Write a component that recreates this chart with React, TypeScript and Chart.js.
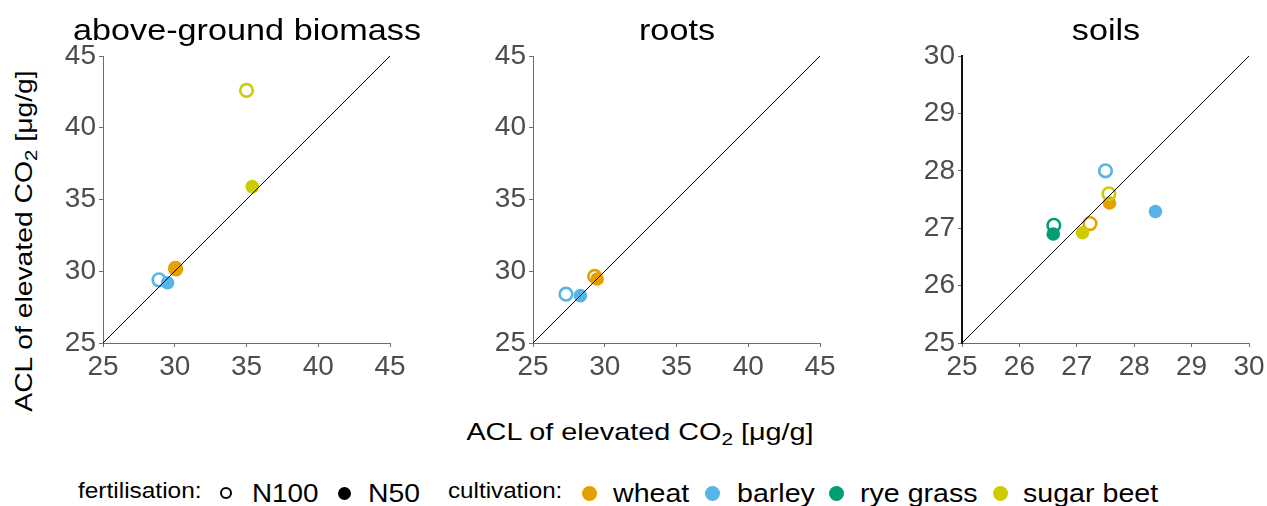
import React, { useEffect, useRef } from 'react';
import { Chart, registerables } from 'chart.js';

Chart.register(...registerables);

// ---- data -------------------------------------------------------------
const cultivations = ['wheat', 'barley', 'rye grass', 'sugar beet'];
const cultivationColors = ['#E69F00', '#56B4E9', '#009E73', '#CCCC00'];
const fertilisations = ['N100', 'N50'];

// above-ground biomass (per cultivation, null = not measured)
const biomassN100X = [30.05, 28.9, null, 35.0];
const biomassN100Y = [30.2, 29.4, null, 42.6];
const biomassN50X = [30.1, 29.5, null, 35.4];
const biomassN50Y = [30.1, 29.2, null, 35.9];

// roots
const rootsN100X = [29.3, 27.3, null, null];
const rootsN100Y = [29.64, 28.4, null, null];
const rootsN50X = [29.47, 28.3, null, null];
const rootsN50Y = [29.46, 28.3, null, null];

// soils
const soilsN100X = [27.23, 27.5, 26.6, 27.56];
const soilsN100Y = [27.08, 28.0, 27.05, 27.6];
const soilsN50X = [27.57, 28.37, 26.59, 27.1];
const soilsN50Y = [27.44, 27.29, 26.9, 26.92];

const plantTicks = [25, 30, 35, 40, 45];
const soilTicks = [25, 26, 27, 28, 29, 30];

const panelTitles = ['above-ground biomass', 'roots', 'soils'];

// ---- layout -----------------------------------------------------------
const FONT = '"Liberation Sans", Arial, Helvetica, sans-serif';
const PLOT = 287;
const Y_AXIS_W = 60;
const X_AXIS_H = 44;
const PAD_TOP = 56;
const PAD_RIGHT = 22;
const plotLefts = [103, 533, 962];

type Panel = {
  title: string;
  ticks: number[];
  n100x: (number | null)[];
  n100y: (number | null)[];
  n50x: (number | null)[];
  n50y: (number | null)[];
  left: number;
  yBorder: { color: string; width: number };
};

const panels: Panel[] = [
  { title: panelTitles[0], ticks: plantTicks, n100x: biomassN100X, n100y: biomassN100Y, n50x: biomassN50X, n50y: biomassN50Y, left: plotLefts[0], yBorder: { color: '#6e6e6e', width: 1 } },
  { title: panelTitles[1], ticks: plantTicks, n100x: rootsN100X, n100y: rootsN100Y, n50x: rootsN50X, n50y: rootsN50Y, left: plotLefts[1], yBorder: { color: '#6e6e6e', width: 1 } },
  { title: panelTitles[2], ticks: soilTicks, n100x: soilsN100X, n100y: soilsN100Y, n50x: soilsN50X, n50y: soilsN50Y, left: plotLefts[2], yBorder: { color: '#111111', width: 2 } },
];

function buildDatasets(p: Panel) {
  const lo = p.ticks[0];
  const hi = p.ticks[p.ticks.length - 1];
  const sets: any[] = [
    {
      type: 'line',
      data: [{ x: lo, y: lo }, { x: hi, y: hi }],
      borderColor: '#000000',
      borderWidth: 1,
      pointRadius: 0,
      order: 0,
    },
  ];
  let k = 0;
  cultivations.forEach((c, i) => {
    fertilisations.forEach((f) => {
      const xs = f === 'N100' ? p.n100x : p.n50x;
      const ys = f === 'N100' ? p.n100y : p.n50y;
      const x = xs[i];
      const y = ys[i];
      k += 1;
      if (x === null || y === null) return;
      const open = f === 'N100';
      sets.push({
        label: `${c} ${f}`,
        data: [{ x, y }],
        pointRadius: open ? 6.3 : 6.8,
        pointBorderWidth: open ? 2.6 : 0,
        pointBorderColor: cultivationColors[i],
        pointBackgroundColor: open ? 'rgba(0,0,0,0)' : cultivationColors[i],
        order: 100 - k,
      });
    });
  });
  return sets;
}

function axis(ticks: number[], horizontal: boolean, border: { color: string; width: number }) {
  return {
    type: 'linear',
    min: ticks[0],
    max: ticks[ticks.length - 1],
    afterBuildTicks: (s: any) => {
      s.ticks = ticks.map((v) => ({ value: v }));
    },
    afterFit: (s: any) => {
      if (horizontal) s.height = X_AXIS_H;
      else s.width = Y_AXIS_W;
      s.paddingLeft = 0;
      s.paddingRight = 0;
      s.paddingTop = 0;
      s.paddingBottom = 0;
    },
    grid: { drawOnChartArea: false, drawTicks: true, tickLength: 4, color: '#6e6e6e', lineWidth: 1 },
    border: { display: true, color: border.color, width: border.width },
    ticks: {
      font: { size: 28, family: FONT },
      color: '#4D4D4D',
      padding: horizontal ? 3 : 3,
      maxRotation: 0,
      autoSkip: false,
    },
  };
}

function PanelChart({ p }: { p: Panel }) {
  const ref = useRef<HTMLCanvasElement | null>(null);
  useEffect(() => {
    if (!ref.current) return;
    const chart = new Chart(ref.current, {
      type: 'scatter',
      data: { datasets: buildDatasets(p) },
      options: {
        animation: false,
        responsive: false,
        devicePixelRatio: 1,
        layout: { padding: { top: PAD_TOP, right: PAD_RIGHT, bottom: 0, left: 0 } },
        plugins: { legend: { display: false }, tooltip: { enabled: false }, title: { display: false } },
        scales: {
          x: axis(p.ticks, true, { color: '#6e6e6e', width: 1 }),
          y: axis(p.ticks, false, p.yBorder),
        },
      } as any,
    });
    return () => chart.destroy();
  }, [p]);
  const w = Y_AXIS_W + PLOT + PAD_RIGHT;
  const h = PAD_TOP + PLOT + X_AXIS_H;
  return (
    <canvas
      ref={ref}
      width={w}
      height={h}
      style={{ position: 'absolute', left: p.left - Y_AXIS_W, top: 0, width: w, height: h }}
    />
  );
}

// Text placed by its baseline; sx stretches it horizontally.
function Text({ children, x, base, size, sx = 1, center = false, color = '#000' }: any) {
  return (
    <div
      style={{
        position: 'absolute',
        left: x,
        top: base - 0.8465 * size,
        fontFamily: FONT,
        fontSize: size,
        lineHeight: `${size}px`,
        whiteSpace: 'nowrap',
        color,
        transformOrigin: center ? '50% 50%' : '0 50%',
        transform: center ? `translateX(-50%) scaleX(${sx})` : `scaleX(${sx})`,
      }}
    >
      {children}
    </div>
  );
}

function AxisTitle() {
  return (
    <>
      ACL of elevated CO
      <span style={{ fontSize: '0.72em', position: 'relative', top: '0.28em' }}>2</span> [μg/g]
    </>
  );
}

function Dot({ cx, cy, d, color, open = false }: any) {
  return (
    <div
      style={{
        position: 'absolute',
        left: cx - d / 2,
        top: cy - d / 2,
        width: d,
        height: d,
        boxSizing: 'border-box',
        borderRadius: '50%',
        background: open ? 'transparent' : color,
        border: open ? `2px solid ${color}` : 'none',
      }}
    />
  );
}

export default function App() {
  const legendDots = [589, 712, 836, 1000];
  const legendLabels = [613, 737, 860, 1023];
  const yTitleCx = 24;
  const yTitleCy = 241;
  const yTitleBox = 420;
  return (
    <div
      style={{
        position: 'absolute',
        left: 0,
        top: 0,
        width: 1267,
        height: 506,
        overflow: 'hidden',
        background: '#ffffff',
      }}
    >
      {panels.map((p) => (
        <PanelChart key={p.title} p={p} />
      ))}
      {panels.map((p) => (
        <Text key={`t-${p.title}`} x={p.left + PLOT / 2} base={41} size={29} sx={1.18} center>
          {p.title}
        </Text>
      ))}

      {/* shared axis titles */}
      <Text x={640} base={440} size={24} sx={1.2} center>
        <AxisTitle />
      </Text>
      <div
        style={{
          position: 'absolute',
          left: yTitleCx - yTitleBox / 2,
          top: yTitleCy - 12,
          width: yTitleBox,
          height: 24,
          textAlign: 'center',
          fontFamily: FONT,
          fontSize: 24,
          lineHeight: '24px',
          whiteSpace: 'nowrap',
          transformOrigin: '50% 50%',
          transform: 'rotate(-90deg) scaleX(1.18)',
        }}
      >
        <AxisTitle />
      </div>

      {/* legend */}
      <Text x={78} base={499} size={22} sx={1.11}>fertilisation:</Text>
      <Dot cx={226} cy={493} d={12} color="#000" open />
      <Text x={252} base={502} size={26} sx={1.07}>{fertilisations[0]}</Text>
      <Dot cx={344} cy={493} d={13} color="#000" />
      <Text x={368} base={502} size={26} sx={1.09}>{fertilisations[1]}</Text>
      <Text x={448} base={499} size={22} sx={1.1}>cultivation:</Text>
      {cultivations.map((c, i) => (
        <React.Fragment key={c}>
          <Dot cx={legendDots[i]} cy={493} d={15} color={cultivationColors[i]} />
          <Text x={legendLabels[i]} base={502} size={26} sx={1.1}>{c}</Text>
        </React.Fragment>
      ))}
    </div>
  );
}
